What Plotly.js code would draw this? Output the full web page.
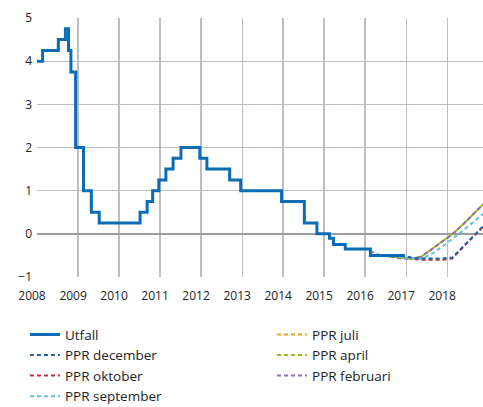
<!DOCTYPE html>
<html>
<head>
<meta charset="utf-8">
<script src="https://cdn.plot.ly/plotly-3.0.1.min.js"></script>
<style>
  html, body { margin: 0; padding: 0; background: #fff; }
  #chart { width: 483px; height: 407px; }
</style>
</head>
<body>
<div id="chart"></div>
<script>
// Reporäntan, utfall (datum för ändring) och prognoser (kvartalsmedel)
var utfallDatum = [
  "2008-01-01", "2008-02-20", "2008-07-09", "2008-09-10", "2008-10-08", "2008-10-29",
  "2008-12-10", "2009-02-18", "2009-04-29", "2009-07-08", "2010-07-07", "2010-09-08",
  "2010-10-27", "2010-12-21", "2011-02-22", "2011-04-27", "2011-07-06", "2011-12-21",
  "2012-02-22", "2012-09-12", "2012-12-19", "2013-12-18", "2014-07-09", "2014-10-29",
  "2015-02-18", "2015-03-25", "2015-07-08", "2016-02-17", "2016-12-20"
];
var utfall = [
  4.00, 4.25, 4.50, 4.75, 4.25, 3.75,
  2.00, 1.00, 0.50, 0.25, 0.50, 0.75,
  1.00, 1.25, 1.50, 1.75, 2.00, 1.75,
  1.50, 1.25, 1.00, 0.75, 0.25, 0.00,
  -0.10, -0.25, -0.35, -0.50, -0.50
];

var kvartal = [
  "2016-02-15", "2016-05-15", "2016-08-15", "2016-11-15",
  "2017-02-15", "2017-05-15", "2017-08-15", "2017-11-15",
  "2018-02-15", "2018-05-15", "2018-08-15", "2018-11-15"
];
var pprFebruari  = [-0.40, -0.50, -0.53, -0.57, -0.58, -0.53, -0.36, -0.19, -0.01, 0.20, 0.44, 0.68];
var pprApril     = [null, -0.50, -0.53, -0.56, -0.58, -0.53, -0.36, -0.19, -0.01, 0.20, 0.44, 0.68];
var pprJuli      = [null, null, -0.50, -0.55, -0.58, -0.53, -0.36, -0.19, -0.01, 0.20, 0.44, 0.68];
var pprSeptember = [null, null, -0.50, -0.54, -0.57, -0.58, -0.47, -0.30, -0.12, 0.06, 0.26, 0.46];
var pprOktober   = [null, null, null, -0.52, -0.58, -0.60, -0.60, -0.60, -0.57, -0.32, -0.08, 0.16];
var pprDecember  = [null, null, null, -0.50, -0.55, -0.57, -0.57, -0.57, -0.55, -0.31, -0.07, 0.17];

var arTicks = ["2008-01-01", "2009-01-01", "2010-01-01", "2011-01-01", "2012-01-01", "2013-01-01",
               "2014-01-01", "2015-01-01", "2016-01-01", "2017-01-01", "2018-01-01"];
var arText = ["2008", "2009", "2010", "2011", "2012", "2013", "2014", "2015", "2016", "2017", "2018"];

function prognos(namn, y, color, rank, legend) {
  return {
    x: kvartal, y: y, name: namn, type: "scatter", mode: "lines",
    line: { color: color, width: 2, dash: "4px,3px" },
    legendrank: rank, legend: legend
  };
}

var data = [
  prognos("PPR juli", pprJuli, "#f39c1e", 1, "legend2"),
  prognos("PPR oktober", pprOktober, "#c8283c", 3, "legend"),
  prognos("PPR april", pprApril, "#93c01f", 2, "legend2"),
  prognos("PPR februari", pprFebruari, "#8e6fb8", 3, "legend2"),
  prognos("PPR september", pprSeptember, "#5bc4d6", 4, "legend"),
  prognos("PPR december", pprDecember, "#2162ae", 2, "legend"),
  {
    x: utfallDatum, y: utfall, name: "Utfall", type: "scatter", mode: "lines",
    line: { color: "#0a6cb5", width: 3, shape: "hv" },
    legendrank: 1, legend: "legend"
  }
];

var legendFont = { family: "Open Sans, sans-serif", size: 13.5, color: "#222" };

var layout = {
  width: 483,
  height: 407,
  margin: { l: 37, r: 0, t: 18, b: 130, autoexpand: false },
  paper_bgcolor: "#fff",
  plot_bgcolor: "#fff",
  font: { family: "Open Sans, sans-serif", size: 12, color: "#222" },
  xaxis: {
    type: "date",
    range: ["2008-01-01", "2018-11-16"],
    tickvals: arTicks,
    ticktext: arText,
    showgrid: true,
    gridcolor: "#bdbdc5",
    gridwidth: 1.3,
    zeroline: false,
    showline: false,
    ticks: "",
    ticklabelshift: -5,
    ticklabelstandoff: 10,
    tickfont: { size: 12, color: "#222" }
  },
  yaxis: {
    range: [-1, 5],
    dtick: 1,
    showgrid: true,
    gridcolor: "#bdbdc5",
    gridwidth: 1.3,
    zeroline: true,
    zerolinecolor: "#9c9ca6",
    zerolinewidth: 2,
    showline: false,
    ticks: "",
    ticklabelstandoff: 4,
    tickfont: { size: 12, color: "#222" }
  },
  showlegend: true,
  legend: {
    x: -0.027, y: -0.163, xanchor: "left", yanchor: "top",
    orientation: "v", traceorder: "normal",
    bgcolor: "rgba(0,0,0,0)", borderwidth: 0, font: legendFont
  },
  legend2: {
    x: 0.527, y: -0.163, xanchor: "left", yanchor: "top",
    orientation: "v", traceorder: "normal",
    bgcolor: "rgba(0,0,0,0)", borderwidth: 0, font: legendFont
  }
};

Plotly.newPlot("chart", data, layout, { displayModeBar: false, staticPlot: true });
</script>
</body>
</html>
